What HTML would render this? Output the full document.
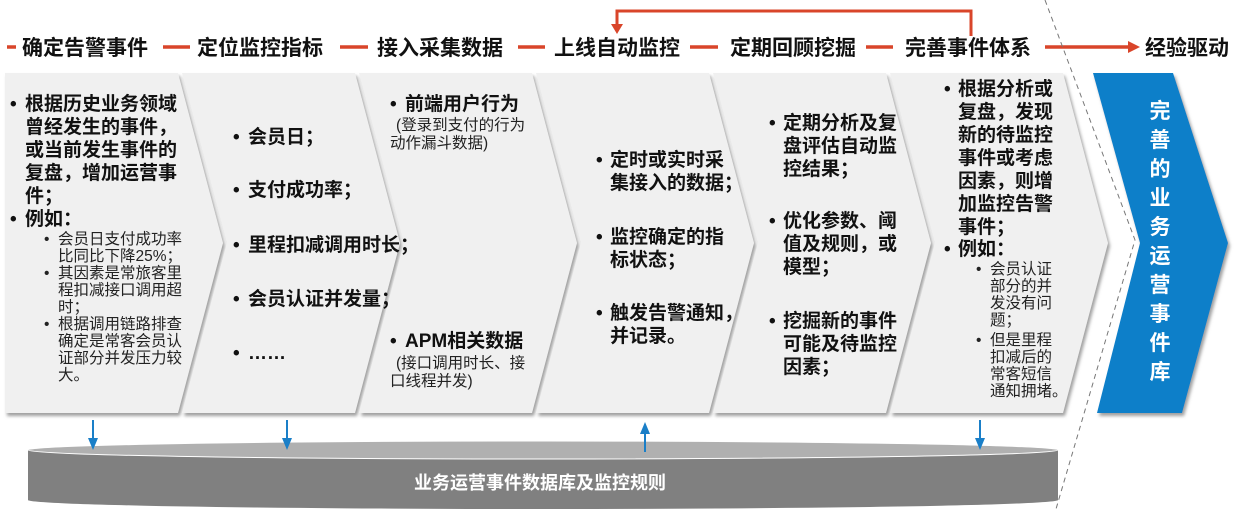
<!DOCTYPE html>
<html><head><meta charset="utf-8"><style>
html,body{margin:0;padding:0;background:#fff;}
svg{display:block;}
text{font-family:"Liberation Sans","Noto Sans CJK SC",sans-serif;}
.h{font-size:21px;font-weight:bold;fill:#111;}
.b{font-size:19px;font-weight:bold;fill:#111;}
.s{font-size:15.5px;fill:#222;}
.w{font-size:21px;font-weight:bold;fill:#fff;}
</style></head><body>
<svg width="1235" height="509" viewBox="0 0 1235 509" xmlns="http://www.w3.org/2000/svg">
<defs>
<filter id="sh" x="-5%" y="-5%" width="115%" height="115%"><feDropShadow dx="2" dy="3" stdDeviation="1.5" flood-color="#777" flood-opacity="0.7"/></filter>
</defs>
<!-- header -->
<g stroke="#d9452a" stroke-width="3.5">
<line x1="7" y1="47" x2="16" y2="47"/>
<line x1="163" y1="47" x2="190" y2="47"/>
<line x1="340" y1="47" x2="368" y2="47"/>
<line x1="518" y1="47" x2="545" y2="47"/>
<line x1="690" y1="47" x2="718" y2="47"/>
<line x1="866" y1="47" x2="893" y2="47"/>
<line x1="1045" y1="47" x2="1128" y2="47"/>
</g>
<path d="M1128,41 L1140,47 L1128,53z" fill="#d9452a"/>
<path d="M971,36 L971,11 L617,11 L617,25" fill="none" stroke="#d9452a" stroke-width="3"/>
<path d="M611,24 L623,24 L617,34z" fill="#d9452a"/>
<g class="h">
<text x="22" y="55">确定告警事件</text>
<text x="197" y="55">定位监控指标</text>
<text x="377" y="55">接入采集数据</text>
<text x="554" y="55">上线自动监控</text>
<text x="730" y="55">定期回顾挖掘</text>
<text x="905" y="55">完善事件体系</text>
<text x="1145" y="55">经验驱动</text>
</g>
<path d="M1045,0 L1135,240 L1056,509" fill="none" stroke="#777" stroke-width="1" stroke-dasharray="5,4"/>
<!-- chevrons -->
<g fill="#f0f0f0" filter="url(#sh)">
<polygon points="5,73 178,73 223,243 178,413 5,413"/>
<polygon points="182,73 355,73 400,243 355,413 182,413 227,243"/>
<polygon points="359,73 532,73 577,243 532,413 359,413 404,243"/>
<polygon points="536,73 709,73 754,243 709,413 536,413 581,243"/>
<polygon points="713,73 886,73 931,243 886,413 713,413 758,243"/>
<polygon points="890,73 1063,73 1108,243 1063,413 890,413 935,243"/>
<polygon points="1093,73 1173,73 1228,243 1182,413 1097,413 1140,243" fill="#0a7fc9"/>
</g>
<!-- chevron 1 -->
<g class="b">
<text x="10" y="110">•</text><text x="25" y="110">根据历史业务领域</text>
<text x="25" y="133">曾经发生的事件，</text>
<text x="25" y="156">或当前发生事件的</text>
<text x="25" y="179">复盘，增加运营事</text>
<text x="25" y="202">件；</text>
<text x="10" y="225">•</text><text x="25" y="225">例如：</text>
</g>
<g class="s">
<text x="44" y="244">•</text><text x="58" y="244">会员日支付成功率</text>
<text x="58" y="261">比同比下降25%；</text>
<text x="44" y="278">•</text><text x="58" y="278">其因素是常旅客里</text>
<text x="58" y="295">程扣减接口调用超</text>
<text x="58" y="312">时；</text>
<text x="44" y="329">•</text><text x="58" y="329">根据调用链路排查</text>
<text x="58" y="346">确定是常客会员认</text>
<text x="58" y="363">证部分并发压力较</text>
<text x="58" y="380">大。</text>
</g>
<!-- chevron 2 -->
<g class="b">
<text x="233" y="143">•</text><text x="248" y="143">会员日；</text>
<text x="233" y="196">•</text><text x="248" y="196">支付成功率；</text>
<text x="233" y="251">•</text><text x="248" y="251">里程扣减调用时长；</text>
<text x="233" y="305">•</text><text x="248" y="305">会员认证并发量；</text>
<text x="233" y="359">•</text><text x="248" y="359">……</text>
</g>
<!-- chevron 3 -->
<g class="b">
<text x="390" y="110">•</text><text x="405" y="110">前端用户行为</text>
<text x="390" y="347">•</text><text x="405" y="347">APM相关数据</text>
</g>
<g class="s">
<text x="396" y="130">(登录到支付的行为</text>
<text x="390" y="148">动作漏斗数据)</text>
<text x="396" y="368">(接口调用时长、接</text>
<text x="390" y="386">口线程并发)</text>
</g>
<!-- chevron 4 -->
<g class="b">
<text x="596" y="166">•</text><text x="610" y="166">定时或实时采</text>
<text x="610" y="189">集接入的数据；</text>
<text x="596" y="243">•</text><text x="610" y="243">监控确定的指</text>
<text x="610" y="266">标状态；</text>
<text x="596" y="319">•</text><text x="610" y="319">触发告警通知，</text>
<text x="610" y="342">并记录。</text>
</g>
<!-- chevron 5 -->
<g class="b">
<text x="769" y="129">•</text><text x="783" y="129">定期分析及复</text>
<text x="783" y="152">盘评估自动监</text>
<text x="783" y="175">控结果；</text>
<text x="769" y="227">•</text><text x="783" y="227">优化参数、阈</text>
<text x="783" y="250">值及规则，或</text>
<text x="783" y="273">模型；</text>
<text x="769" y="327">•</text><text x="783" y="327">挖掘新的事件</text>
<text x="783" y="350">可能及待监控</text>
<text x="783" y="373">因素；</text>
</g>
<!-- chevron 6 -->
<g class="b">
<text x="944" y="95">•</text><text x="958" y="95">根据分析或</text>
<text x="958" y="118">复盘，发现</text>
<text x="958" y="141">新的待监控</text>
<text x="958" y="164">事件或考虑</text>
<text x="958" y="187">因素，则增</text>
<text x="958" y="210">加监控告警</text>
<text x="958" y="233">事件；</text>
<text x="944" y="255">•</text><text x="958" y="255">例如：</text>
</g>
<g class="s">
<text x="976" y="274">•</text><text x="990" y="274">会员认证</text>
<text x="990" y="291">部分的并</text>
<text x="990" y="308">发没有问</text>
<text x="990" y="325">题；</text>
<text x="976" y="345">•</text><text x="990" y="345">但是里程</text>
<text x="990" y="362">扣减后的</text>
<text x="990" y="379">常客短信</text>
<text x="990" y="396">通知拥堵。</text>
</g>
<!-- blue vertical text -->
<g class="w" text-anchor="middle">
<text x="1160" y="118">完</text>
<text x="1160" y="147">善</text>
<text x="1160" y="176">的</text>
<text x="1160" y="205">业</text>
<text x="1160" y="234">务</text>
<text x="1160" y="263">运</text>
<text x="1160" y="292">营</text>
<text x="1160" y="321">事</text>
<text x="1160" y="350">件</text>
<text x="1160" y="379">库</text>
</g>
<!-- database -->
<path d="M28,450 L28,500 A515,9 0 0 0 1058,500 L1058,450z" fill="#808080"/>
<ellipse cx="543" cy="450" rx="515" ry="9" fill="#b0b0b0" stroke="#fff" stroke-width="1"/>
<text x="540" y="489" text-anchor="middle" style="font-size:18px;font-weight:bold;fill:#fff;">业务运营事件数据库及监控规则</text>
<!-- blue arrows -->
<g stroke="#1a7fc8" stroke-width="2">
<line x1="93" y1="420" x2="93" y2="440"/>
<line x1="287" y1="420" x2="287" y2="440"/>
<line x1="645" y1="432" x2="645" y2="452"/>
<line x1="980" y1="420" x2="980" y2="440"/>
</g>
<g fill="#1a7fc8">
<path d="M88,438 L98,438 L93,450z"/>
<path d="M282,438 L292,438 L287,450z"/>
<path d="M640,434 L650,434 L645,422z"/>
<path d="M975,438 L985,438 L980,450z"/>
</g>
</svg>
</body></html>
